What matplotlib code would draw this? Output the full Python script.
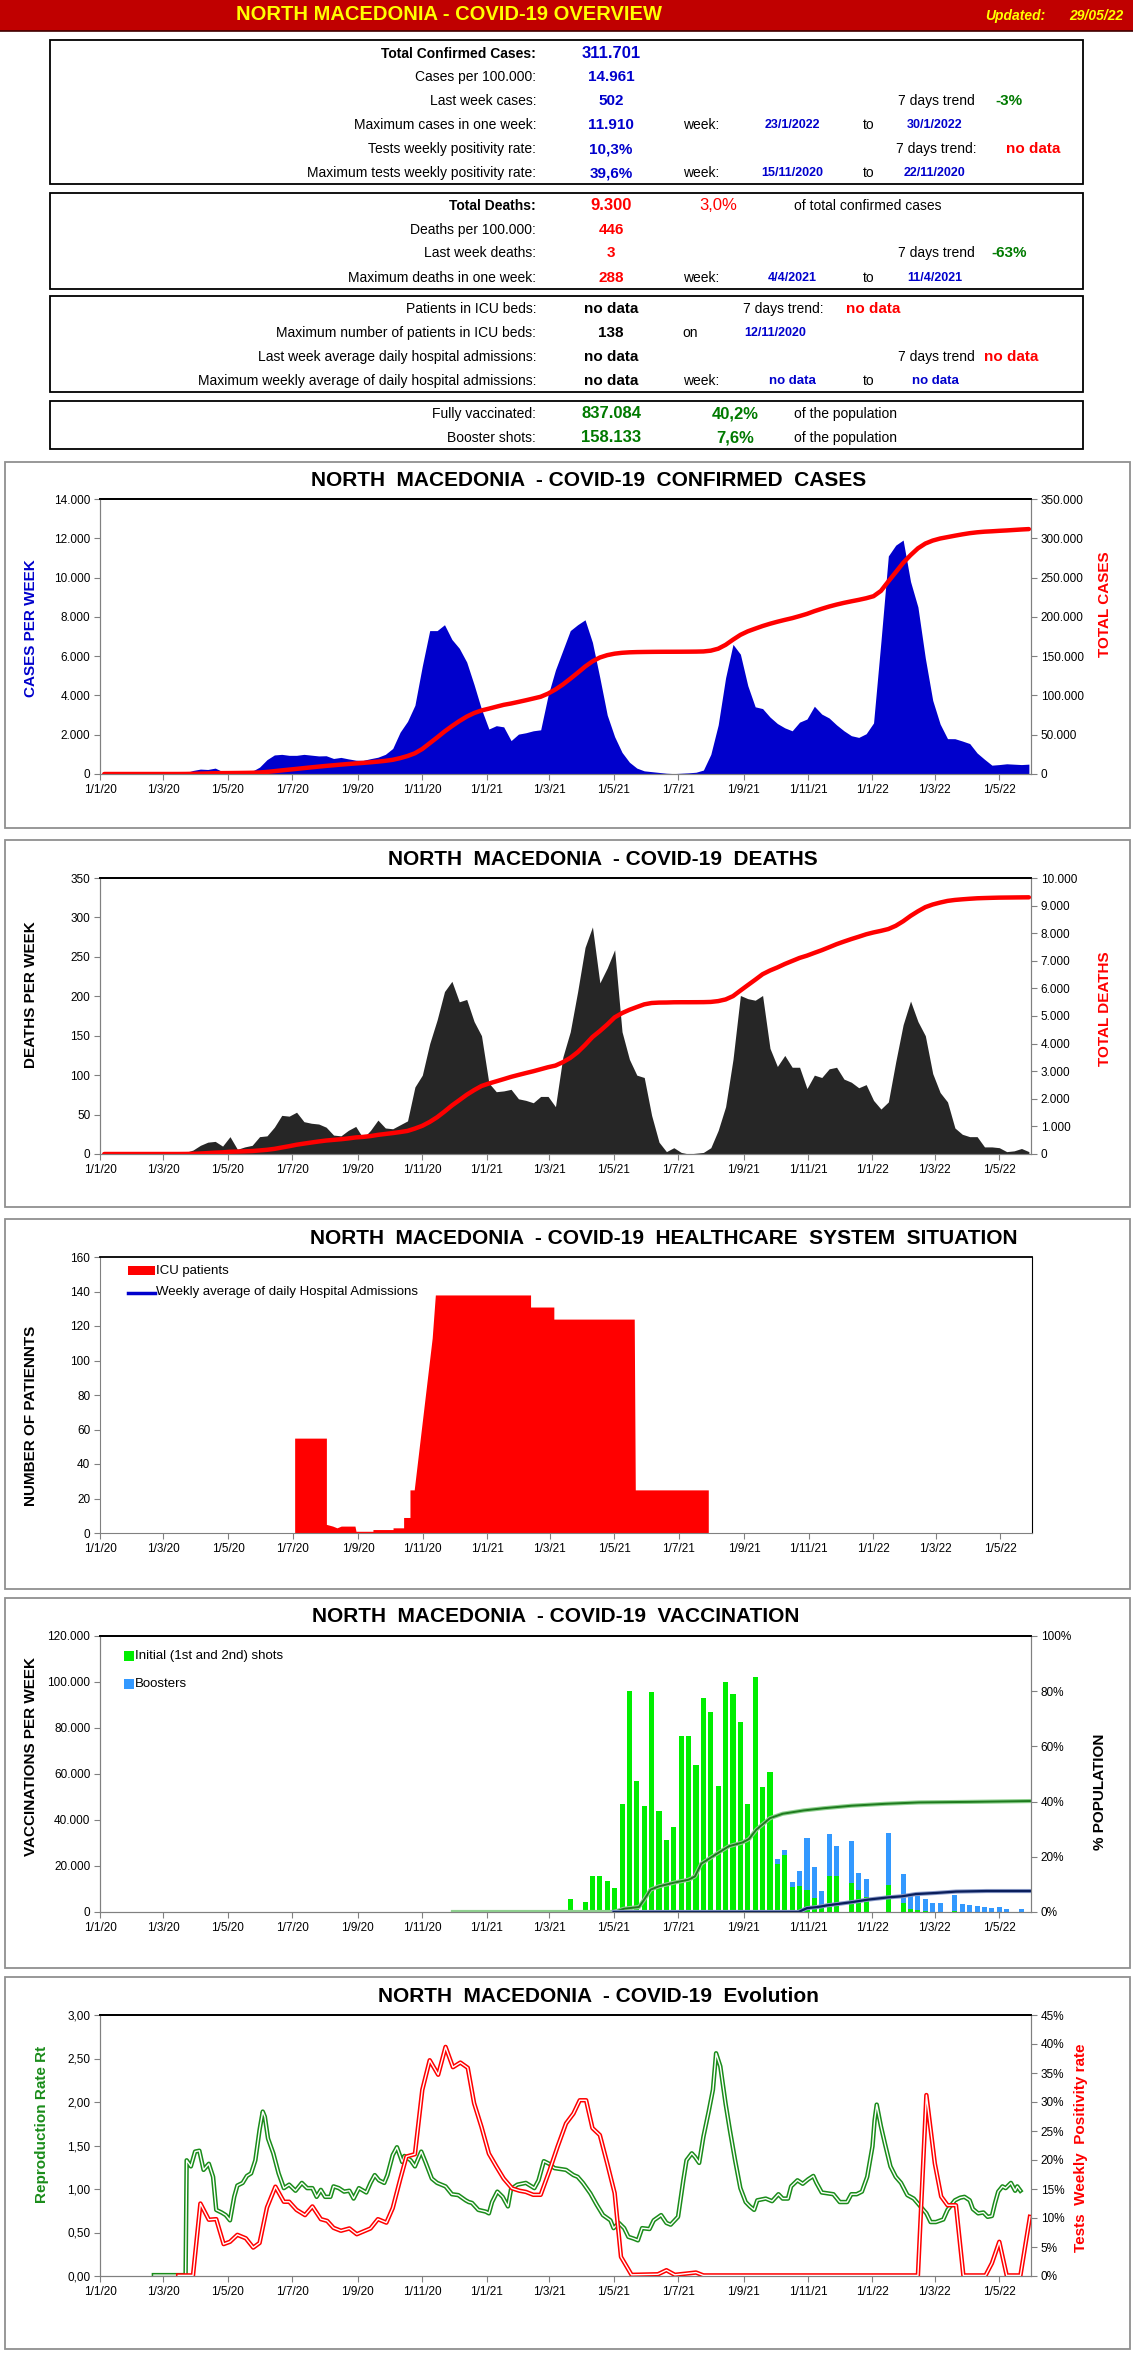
import numpy as np
import pandas as pd
import matplotlib
matplotlib.use('Agg')
import matplotlib.pyplot as plt
import matplotlib.dates as mdates
from matplotlib import font_manager
from matplotlib.patches import Rectangle
from matplotlib.lines import Line2D
from matplotlib.ticker import FuncFormatter, MultipleLocator

W, H = 1133, 2367

installed = {f.name for f in font_manager.fontManager.ttflist}
NARROW = 'Liberation Sans Narrow' if 'Liberation Sans Narrow' in installed else 'Liberation Sans'
WIDE = 'Liberation Sans'
plt.rcParams['font.family'] = [NARROW, 'DejaVu Sans']

# ---------------- data ----------------
weeks = pd.date_range('2020-01-05', periods=126, freq='7D')

cases_week = [0, 0, 0, 0, 0, 0, 0, 0, 0, 0,
              10, 60, 180, 250, 230, 300, 120, 80, 90, 110,
              140, 350, 730, 970, 1000, 950, 950, 1000, 960, 920,
              930, 790, 845, 770, 705, 695, 780, 855, 1000, 1300,
              2130, 2680, 3500, 5500, 7300, 7300, 7600, 6850, 6400, 5700,
              4550, 3300, 2290, 2460, 2400, 1700, 2030, 2100, 2200, 2250,
              4000, 5300, 6300, 7300, 7600, 7850, 6700, 4900, 3000, 1900,
              1100, 600, 300, 160, 120, 80, 40, 20, 40, 60,
              90, 200, 1000, 2500, 4900, 6600, 6100, 4500, 3420, 3330,
              2900, 2570, 2350, 2200, 2640, 2800, 3450, 3050, 2850, 2500,
              2200, 1950, 1863, 2050, 2600, 6750, 11100, 11650, 11910, 9800,
              8500, 5900, 3750, 2545, 1800, 1797, 1680, 1550, 1070, 750,
              450, 480, 520, 500, 480, 502]

cases_total = [0, 0, 0, 0, 0, 0, 0, 0, 0, 0,
               10, 70, 250, 500, 730, 1030, 1150, 1230, 1320, 1430,
               1570, 1920, 2650, 3620, 4620, 5570, 6520, 7520, 8480, 9400,
               10330, 11120, 11970, 12740, 13440, 14140, 14920, 15770, 16770, 18070,
               20200, 22880, 26380, 31880, 39180, 46480, 54080, 60930, 67330, 73030,
               77580, 80880, 83170, 85630, 88030, 89730, 91760, 93860, 96060, 98310,
               102310, 107610, 113910, 121210, 128810, 136660, 143360, 148260, 151260, 153160,
               154260, 154860, 155160, 155320, 155440, 155520, 155560, 155580, 155620, 155680,
               155770, 155970, 156970, 159470, 164370, 170970, 177070, 181570, 184990, 188320,
               191220, 193790, 196140, 198340, 200980, 203780, 207230, 210280, 213130, 215630,
               217830, 219780, 221640, 223690, 226290, 233040, 245100, 256800, 268700, 278500,
               287200, 293300, 297100, 299700, 301500, 303300, 305000, 306500, 307600, 308400,
               308900, 309500, 310000, 310600, 311200, 311700]

deaths_week = [0, 0, 0, 0, 0, 0, 0, 0, 0, 0,
               0, 2, 5, 11, 15, 16, 10, 22, 6, 9,
               11, 22, 23, 34, 49, 48, 53, 41, 39, 38,
               34, 24, 23, 30, 35, 20, 30, 43, 33, 32,
               37, 42, 85, 100, 140, 170, 206, 219, 193, 196,
               168, 150, 90, 79, 80, 82, 70, 68, 65, 73,
               73, 60, 123, 155, 206, 262, 288, 217, 236, 259,
               155, 120, 100, 97, 49, 15, 3, 8, 2, 0,
               1, 2, 8, 30, 60, 120, 201, 197, 195, 201,
               134, 111, 125, 110, 110, 83, 100, 97, 108, 110,
               95, 91, 84, 88, 68, 57, 66, 117, 164, 194,
               168, 150, 102, 78, 66, 33, 25, 22, 22, 9,
               9, 8, 3, 4, 7, 3]

deaths_total = [0, 0, 0, 0, 0, 0, 0, 0, 0, 0,
                0, 2, 7, 18, 33, 49, 59, 81, 87, 96,
                107, 129, 152, 186, 235, 283, 336, 377, 416, 454,
                488, 512, 535, 565, 600, 620, 650, 693, 726, 758,
                795, 837, 922, 1022, 1162, 1332, 1538, 1757, 1950, 2146,
                2314, 2464, 2554, 2633, 2713, 2795, 2865, 2933, 2998, 3071,
                3144, 3204, 3327, 3482, 3688, 3950, 4238, 4455, 4691, 4950,
                5105, 5225, 5325, 5422, 5471, 5486, 5489, 5497, 5499, 5499,
                5500, 5502, 5510, 5540, 5600, 5720, 5921, 6118, 6313, 6514,
                6648, 6759, 6884, 6994, 7104, 7187, 7287, 7384, 7492, 7602,
                7697, 7788, 7872, 7960, 8028, 8085, 8151, 8268, 8432, 8626,
                8794, 8944, 9040, 9110, 9170, 9205, 9228, 9248, 9265, 9274,
                9282, 9289, 9292, 9295, 9298, 9300]

icu_dates = ['2020-07-03', '2020-07-03', '2020-08-02', '2020-08-02', '2020-08-08',
             '2020-08-12', '2020-08-16', '2020-08-29', '2020-08-30', '2020-09-15',
             '2020-09-15', '2020-10-04', '2020-10-04', '2020-10-14', '2020-10-14',
             '2020-10-20', '2020-10-20', '2020-10-24', '2020-11-10', '2020-11-13',
             '2021-02-11', '2021-02-11', '2021-03-05', '2021-03-05', '2021-05-20',
             '2021-05-21', '2021-07-29', '2021-07-29']
icu_patients = [0, 55, 55, 5, 4, 3, 4, 4, 1, 1, 2, 2, 3, 3, 9, 9, 25, 25, 113, 138,
                138, 131, 131, 124, 124, 25, 25, 0]

vax_weeks = pd.date_range('2021-03-21', periods=62, freq='7D')
vax_initial = [5800, 0, 4300, 15800, 15800, 13600, 10400, 47100, 96200, 57000,
               46200, 95700, 43700, 31400, 37100, 76600, 76600, 64000, 93100, 87000,
               54900, 100100, 95000, 82700, 47100, 102200, 54200, 61000,
               21000, 24800, 10900, 11400, 9400, 6200, 2500, 15800, 15800, 0,
               12600, 9700, 6500, 0, 0, 11700, 0, 3900, 1300, 1000,
               400, 0, 0, 0, 400, 0, 0, 0, 0, 0,
               0, 0, 0, 0]
vax_boosters = [0] * 28 + [2200, 2300, 2300, 6600, 22800, 13500, 6800, 18200, 13000, 0,
                           18400, 7400, 8000, 0, 0, 22800, 0, 12750, 6100, 6400,
                           5400, 4050, 4050, 0, 7100, 3600, 3200, 2750, 2300, 1600,
                           2200, 1450, 0, 1450]

# days counted from 1 Jan 2020
full_vax_day = [334, 486, 496, 510, 515, 521, 529, 544, 557, 563, 569, 582, 595, 608,
                614, 621, 634, 646, 666, 685, 711, 743, 775, 823, 880]
full_vax_pct = [0, 0, 1.2, 1.8, 4.5, 8.1, 9.3, 10.7, 11.7, 12.9, 17.5, 20.7, 23.8, 25.2,
                26.4, 29.8, 34.0, 35.6, 36.8, 37.6, 38.5, 39.2, 39.7, 39.9, 40.2]
booster_day = [486, 661, 669, 679, 688, 698, 712, 727, 746, 759, 772, 791, 810, 839, 880]
booster_pct = [0, 0, 1.4, 1.8, 2.4, 2.9, 3.6, 4.5, 5.3, 5.7, 6.5, 6.9, 7.4, 7.6, 7.6]

rt_day = [51, 81, 82, 86, 90, 94, 98, 103, 107, 110, 115, 119, 123, 127, 130, 135, 139,
          143, 147, 151, 154, 156, 159, 164, 169, 174, 179, 185, 191, 196, 201, 205, 209,
          213, 218, 221, 226, 231, 236, 240, 245, 252, 256, 260, 264, 269, 272, 277, 281,
          286, 288, 294, 298, 304, 308, 314, 319, 327, 333, 339, 346, 349, 352, 358, 365,
          368, 371, 376, 381, 386, 389, 395, 403, 411, 415, 420, 425, 430, 441, 448, 452,
          457, 464, 470, 476, 483, 486, 491, 496, 500, 505, 509, 513, 520, 524, 531, 536,
          540, 547, 552, 555, 560, 563, 567, 571, 576, 580, 583, 587, 592, 596, 601, 606,
          611, 615, 619, 622, 630, 636, 642, 646, 651, 654, 660, 665, 670, 675, 678, 683,
          694, 700, 707, 711, 716, 721, 726, 731, 733, 735, 739, 743, 748, 753, 758, 764,
          770, 777, 782, 786, 791, 798, 802, 809, 814, 818, 823, 826, 831, 836, 840, 844,
          847, 850, 854, 857, 862, 866, 868, 871]
rt_value = [0.01, 0.01, 1.33, 1.26, 1.43, 1.44, 1.22, 1.29, 1.14, 0.76, 0.73, 0.70, 0.64,
            0.91, 1.04, 1.07, 1.15, 1.18, 1.33, 1.68, 1.89, 1.83, 1.58, 1.41, 1.18, 1.01,
            1.05, 0.98, 1.07, 1.01, 1.01, 0.91, 0.99, 0.91, 0.91, 1.03, 1.01, 0.97, 0.98,
            0.89, 1.01, 0.96, 1.07, 1.16, 1.10, 1.07, 1.16, 1.39, 1.48, 1.31, 1.38, 1.33,
            1.26, 1.43, 1.31, 1.12, 1.07, 1.03, 0.94, 0.93, 0.87, 0.85, 0.84, 0.76, 0.74,
            0.72, 0.85, 0.97, 0.91, 0.80, 1.00, 1.05, 1.07, 1.01, 1.10, 1.32, 1.29, 1.24,
            1.22, 1.16, 1.14, 1.07, 0.95, 0.82, 0.70, 0.64, 0.55, 0.61, 0.55, 0.45, 0.43,
            0.41, 0.55, 0.54, 0.64, 0.70, 0.61, 0.59, 0.68, 1.10, 1.33, 1.41, 1.37, 1.30,
            1.60, 1.89, 2.14, 2.56, 2.41, 1.98, 1.68, 1.33, 1.01, 0.85, 0.80, 0.76, 0.87,
            0.89, 0.86, 0.94, 0.89, 0.89, 1.03, 1.10, 1.06, 1.11, 1.15, 1.07, 0.96, 0.94,
            0.85, 0.85, 0.94, 0.94, 0.97, 1.14, 1.49, 1.79, 1.97, 1.72, 1.51, 1.26, 1.14,
            1.07, 0.93, 0.89, 0.79, 0.72, 0.62, 0.62, 0.65, 0.76, 0.87, 0.90, 0.91, 0.87,
            0.77, 0.72, 0.73, 0.68, 0.69, 0.84, 0.97, 1.03, 1.01, 1.07, 0.98, 1.03, 0.98]

pos_day = [74, 88, 95, 103, 110, 117, 123, 130, 138, 145, 151, 158, 166, 174, 179, 186,
           194, 201, 209, 215, 221, 228, 236, 243, 256, 263, 271, 277, 284, 290, 298, 305,
           312, 320, 327, 334, 341, 348, 354, 361, 368, 375, 382, 390, 397, 403, 410, 417,
           425, 433, 441, 448, 454, 460, 466, 473, 480, 487, 493, 503, 528, 536, 544, 564,
           571, 774, 782, 790, 796, 802, 810, 817, 838, 844, 851, 858, 871, 880]
pos_rate = [0.1, 0.1, 12.5, 9.7, 9.8, 5.5, 5.9, 7.1, 6.5, 4.9, 5.7, 11.8, 15.4, 12.8, 12.8,
            11.4, 10.5, 12.0, 9.8, 9.5, 8.3, 7.8, 8.2, 7.2, 8.2, 9.8, 9.2, 11.7, 16.6, 20.6,
            21.0, 32.1, 37.2, 34.7, 39.5, 36.0, 36.8, 35.9, 29.8, 25.7, 21.1, 18.9, 16.8,
            15.1, 14.7, 14.5, 14.0, 14.0, 18.0, 22.3, 26.3, 28.0, 30.3, 30.3, 25.5, 24.3,
            19.4, 14.3, 3.3, 0.2, 0.3, 1.0, 0.2, 0.6, 0.1, 0.1, 31.2, 19.4, 13.7, 12.2, 12.2,
            0.1, 0.1, 2.2, 5.9, 0.1, 0.1, 10.2]

# ---------------- helpers ----------------
fig = plt.figure(figsize=(W / 100, H / 100), dpi=100)
fig.patch.set_facecolor('white')


def fx(x):
    return x / W


def fy(y):
    return 1 - y / H


def ftext(x, y, s, **kw):
    kw.setdefault('va', 'center')
    fig.text(fx(x), fy(y), s, **kw)


def frect(x0, y0, x1, y1, **kw):
    fig.add_artist(Rectangle((fx(x0), fy(y1)), (x1 - x0) / W, (y1 - y0) / H,
                             transform=fig.transFigure, **kw))


def to_dates(days):
    return pd.Timestamp('2020-01-01') + pd.to_timedelta(np.asarray(days), unit='D')


def thousands(v, p):
    return f"{int(round(v)):,}".replace(',', '.')


def date_label(v, p):
    d = mdates.num2date(v)
    return f"{d.day}/{d.month}/{d.year % 100}"


X0, X1 = pd.Timestamp('2020-01-01'), pd.Timestamp('2022-05-31')


def style_axes(ax, right_color='#808080'):
    for s in ['left', 'bottom']:
        ax.spines[s].set_color('#808080')
    ax.spines['right'].set_color(right_color)
    ax.spines['top'].set_color('black')
    ax.spines['top'].set_linewidth(1.3)
    ax.tick_params(direction='out', length=4, width=0.8, color='#808080',
                   labelsize=8.5, pad=3)


def chart_axes(top, bottom, right=1031):
    ax = fig.add_axes([fx(100), fy(bottom), (right - 100) / W, (bottom - top) / H])
    ax.set_facecolor('none')
    style_axes(ax)
    ax.set_xlim(X0, X1)
    ax.xaxis.set_major_locator(mdates.MonthLocator(bymonth=[1, 3, 5, 7, 9, 11]))
    ax.xaxis.set_major_formatter(FuncFormatter(date_label))
    return ax


def ylabel(x, y, s, color, size=11):
    ftext(x, y, s, rotation=90, ha='center', color=color, fontsize=size,
          fontweight='bold', family=[WIDE, 'DejaVu Sans'])


def title(x, y, s):
    ftext(x, y, s, ha='center', fontsize=15, fontweight='bold')


# ---------------- header ----------------
frect(0, 0, 1133, 31, facecolor='#C00000', edgecolor='none')
fig.add_artist(Line2D([0, 1], [fy(31), fy(31)], color='#400000', lw=1.2,
                      transform=fig.transFigure))
ftext(449, 15, 'NORTH MACEDONIA - COVID-19 OVERVIEW', ha='center', color='#FFFF00',
      fontsize=14.5, fontweight='bold')
ftext(1015, 16, 'Updated:', ha='center', color='#FFFF00', fontsize=10,
      fontweight='bold', fontstyle='italic')
ftext(1096, 16, '29/05/22', ha='center', color='#FFFF00', fontsize=10,
      fontweight='bold', fontstyle='italic')

for y0, y1 in [(40, 184), (193, 289), (296, 392), (401, 449)]:
    frect(50, y0, 1083, y1, facecolor='none', edgecolor='black', lw=1.3)

BLUE, RED, GREEN = '#0000CC', '#FF0000', '#007A00'
LBL, VAL = 536, 611


def row(y, label, value, vcolor, bold_label=False, vsize=11):
    ftext(LBL, y, label, ha='right', fontsize=10,
          fontweight='bold' if bold_label else 'normal')
    ftext(VAL, y, value, ha='center', fontsize=vsize, fontweight='bold', color=vcolor)


def week_span(y, d1, d2, color=BLUE, size=9):
    ftext(701, y, 'week:', ha='center', fontsize=10)
    ftext(792, y, d1, ha='center', fontsize=size, fontweight='bold', color=color)
    ftext(869, y, 'to', ha='center', fontsize=10)
    ftext(935, y, d2, ha='center', fontsize=size, fontweight='bold', color=color)


r = [54, 77, 101, 125, 149, 173]
row(r[0], 'Total Confirmed Cases:', '311.701', BLUE, True, 12)
row(r[1], 'Cases per 100.000:', '14.961', BLUE)
row(r[2], 'Last week cases:', '502', BLUE)
ftext(936, r[2], '7 days trend', ha='center', fontsize=10)
ftext(1009, r[2], '-3%', ha='center', fontsize=11, fontweight='bold', color=GREEN)
row(r[3], 'Maximum cases in one week:', '11.910', BLUE)
week_span(r[3], '23/1/2022', '30/1/2022')
row(r[4], 'Tests weekly positivity rate:', '10,3%', BLUE)
ftext(936, r[4], '7 days trend:', ha='center', fontsize=10)
ftext(1033, r[4], 'no data', ha='center', fontsize=11, fontweight='bold', color=RED)
row(r[5], 'Maximum tests weekly positivity rate:', '39,6%', BLUE)
week_span(r[5], '15/11/2020', '22/11/2020')

r = [206, 230, 253, 278]
row(r[0], 'Total Deaths:', '9.300', RED, True, 12)
ftext(718, r[0], '3,0%', ha='center', fontsize=12, color=RED)
ftext(794, r[0], 'of total confirmed cases', ha='left', fontsize=10)
row(r[1], 'Deaths per 100.000:', '446', RED)
row(r[2], 'Last week deaths:', '3', RED)
ftext(936, r[2], '7 days trend', ha='center', fontsize=10)
ftext(1009, r[2], '-63%', ha='center', fontsize=11, fontweight='bold', color=GREEN)
row(r[3], 'Maximum deaths in one week:', '288', RED)
week_span(r[3], '4/4/2021', '11/4/2021')

r = [309, 333, 357, 381]
row(r[0], 'Patients in ICU beds:', 'no data', 'black')
ftext(783, r[0], '7 days trend:', ha='center', fontsize=10)
ftext(873, r[0], 'no data', ha='center', fontsize=11, fontweight='bold', color=RED)
row(r[1], 'Maximum number of patients in ICU beds:', '138', 'black')
ftext(690, r[1], 'on', ha='center', fontsize=10)
ftext(775, r[1], '12/11/2020', ha='center', fontsize=9, fontweight='bold', color=BLUE)
row(r[2], 'Last week average daily hospital admissions:', 'no data', 'black')
ftext(936, r[2], '7 days trend', ha='center', fontsize=10)
ftext(1011, r[2], 'no data', ha='center', fontsize=11, fontweight='bold', color=RED)
row(r[3], 'Maximum weekly average of daily hospital admissions:', 'no data', 'black')
week_span(r[3], 'no data', 'no data', size=9.5)

r = [414, 438]
row(r[0], 'Fully vaccinated:', '837.084', GREEN, vsize=12)
ftext(735, r[0], '40,2%', ha='center', fontsize=12, fontweight='bold', color=GREEN)
ftext(794, r[0], 'of the population', ha='left', fontsize=10)
row(r[1], 'Booster shots:', '158.133', GREEN, vsize=12)
ftext(735, r[1], '7,6%', ha='center', fontsize=12, fontweight='bold', color=GREEN)
ftext(794, r[1], 'of the population', ha='left', fontsize=10)

# panel frames
for y0, y1 in [(462, 828), (840, 1207), (1219, 1589), (1598, 1968), (1977, 2349)]:
    frect(5, y0, 1130, y1, facecolor='none', edgecolor='#909090', lw=1.3)

# ---------------- chart 1: cases ----------------
title(589, 480, 'NORTH  MACEDONIA  - COVID-19  CONFIRMED  CASES')
ax = chart_axes(499, 774)
ax.fill_between(weeks, 0, cases_week, color='#0000CC', lw=0)
ax.set_ylim(0, 14000)
ax.yaxis.set_major_locator(MultipleLocator(2000))
ax.yaxis.set_major_formatter(FuncFormatter(thousands))
ax2 = ax.twinx()
style_axes(ax2)
ax2.plot(weeks, cases_total, color='#FF0000', lw=3.2, solid_capstyle='round')
ax2.set_ylim(0, 350000)
ax2.yaxis.set_major_locator(MultipleLocator(50000))
ax2.yaxis.set_major_formatter(FuncFormatter(thousands))
ylabel(31, 628, 'CASES PER WEEK', '#0000CC')
ylabel(1105, 604, 'TOTAL CASES', '#FF0000')

# ---------------- chart 2: deaths ----------------
title(603, 859, 'NORTH  MACEDONIA  - COVID-19  DEATHS')
ax = chart_axes(878, 1154)
ax.fill_between(weeks, 0, deaths_week, color='#262626', lw=0)
ax.set_ylim(0, 350)
ax.yaxis.set_major_locator(MultipleLocator(50))
ax2 = ax.twinx()
style_axes(ax2)
ax2.plot(weeks, deaths_total, color='#FF0000', lw=3.2, solid_capstyle='round')
ax2.set_ylim(0, 10000)
ax2.yaxis.set_major_locator(MultipleLocator(1000))
ax2.yaxis.set_major_formatter(FuncFormatter(thousands))
ylabel(31, 995, 'DEATHS PER WEEK', 'black')
ylabel(1105, 1009, 'TOTAL DEATHS', '#FF0000')

# ---------------- chart 3: ICU ----------------
title(664, 1238, 'NORTH  MACEDONIA  - COVID-19  HEALTHCARE  SYSTEM  SITUATION')
ax = chart_axes(1257, 1533, right=1032)
ax.spines['right'].set_color('black')
ax.fill_between(pd.to_datetime(icu_dates), 0, icu_patients, color='#FF0000', lw=0)
ax.set_ylim(0, 160)
ax.yaxis.set_major_locator(MultipleLocator(20))
frect(128, 1266, 155, 1275, facecolor='#FF0000', edgecolor='none')
ftext(156, 1271, 'ICU patients', ha='left', fontsize=9.5)
fig.add_artist(Line2D([fx(128), fx(155)], [fy(1293), fy(1293)], color='#0000CC', lw=2.5,
                      transform=fig.transFigure))
ftext(156, 1292, 'Weekly average of daily Hospital Admissions', ha='left', fontsize=9.5)
ylabel(31, 1416, 'NUMBER OF PATIENNTS', 'black')

# ---------------- chart 4: vaccination ----------------
title(556, 1617, 'NORTH  MACEDONIA  - COVID-19  VACCINATION')
ax = chart_axes(1636, 1912)
ax.bar(vax_weeks, vax_initial, width=4.8, color='#00EE00', lw=0)
ax.bar(vax_weeks, vax_boosters, width=4.8, bottom=vax_initial, color='#3399FF', lw=0)
ax.set_ylim(0, 120000)
ax.yaxis.set_major_locator(MultipleLocator(20000))
ax.yaxis.set_major_formatter(FuncFormatter(thousands))
ax2 = ax.twinx()
style_axes(ax2)
ax2.plot(to_dates(full_vax_day), full_vax_pct, color='#8FD08F', lw=3.0)
ax2.plot(to_dates(full_vax_day[1:]), full_vax_pct[1:], color='#1E7B1E', lw=1.4)
ax2.plot(to_dates(booster_day), booster_pct, color='#8A9AC8', lw=3.0)
ax2.plot(to_dates(booster_day), booster_pct, color='#0A1F5C', lw=1.6)
ax2.set_ylim(0, 100)
ax2.yaxis.set_major_locator(MultipleLocator(20))
ax2.yaxis.set_major_formatter(FuncFormatter(lambda v, p: f"{v:.0f}%"))
frect(124, 1651, 134, 1661, facecolor='#00EE00', edgecolor='none')
ftext(135, 1656, 'Initial (1st and 2nd) shots', ha='left', fontsize=9.5)
frect(124, 1679, 134, 1689, facecolor='#3399FF', edgecolor='none')
ftext(135, 1684, 'Boosters', ha='left', fontsize=9.5)
ylabel(31, 1756, 'VACCINATIONS PER WEEK', 'black')
ylabel(1100, 1792, '% POPULATION', 'black')

# ---------------- chart 5: evolution ----------------
title(598, 1997, 'NORTH  MACEDONIA  - COVID-19  Evolution')
ax = chart_axes(2015, 2276)
ax.plot(to_dates(rt_day), rt_value, color='#1A8C1A', lw=3.2)
ax.plot(to_dates(rt_day), rt_value, color='white', lw=1.0)
ax.set_ylim(0, 3)
ax.yaxis.set_major_locator(MultipleLocator(0.5))
ax.yaxis.set_major_formatter(FuncFormatter(lambda v, p: f"{v:.2f}".replace('.', ',')))
ax2 = ax.twinx()
style_axes(ax2)
ax2.plot(to_dates(pos_day), pos_rate, color='#FF0000', lw=3.2)
ax2.plot(to_dates(pos_day), pos_rate, color='white', lw=1.0)
ax2.set_ylim(0, 45)
ax2.yaxis.set_major_locator(MultipleLocator(5))
ax2.yaxis.set_major_formatter(FuncFormatter(lambda v, p: f"{v:.0f}%"))
ylabel(42, 2124, 'Reproduction Rate Rt', '#1A8C1A')
ylabel(1081, 2148, 'Tests  Weekly  Positivity rate', '#FF0000')

fig.savefig('out.png', dpi=100)
